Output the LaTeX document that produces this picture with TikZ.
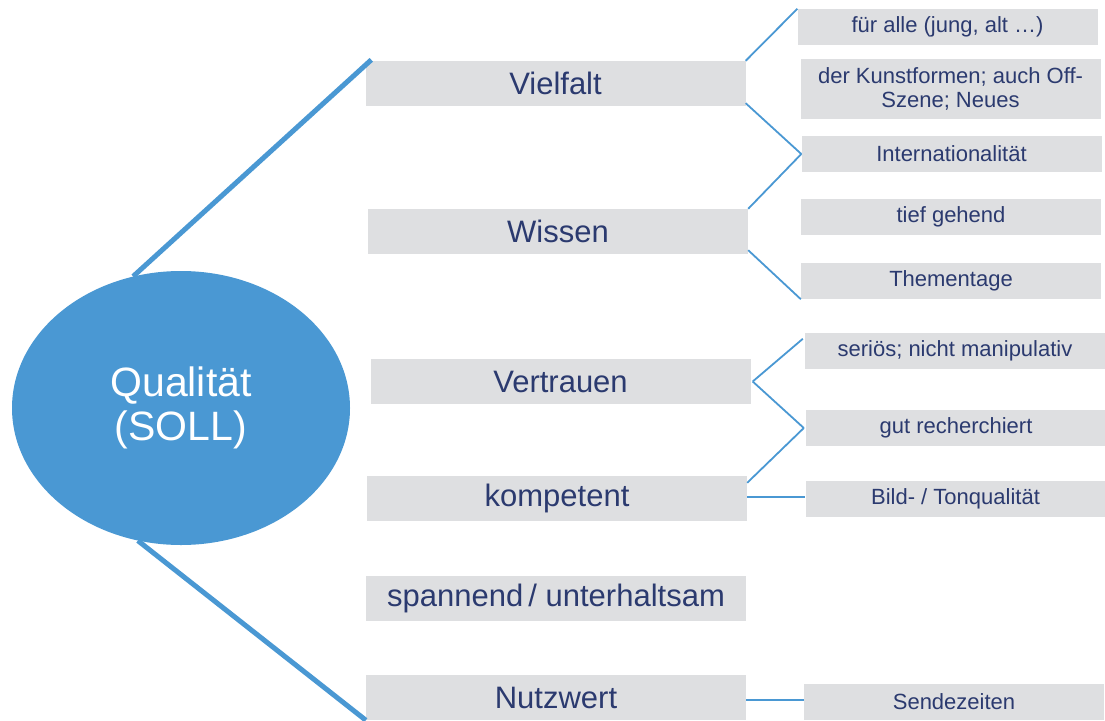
\documentclass[tikz,border=0pt]{standalone}
\usepackage{fontspec}
\setmainfont{Liberation Sans}
\usetikzlibrary{positioning,calc,shapes.geometric}
\definecolor{qualBlue}{HTML}{4A98D3}
\definecolor{qualGreyBg}{HTML}{DEDFE1}
\definecolor{qualNavyText}{HTML}{2B3A6F}
\tikzset{
  main box/.style={
    rectangle, fill=qualGreyBg, text=qualNavyText,
    minimum width=380pt, minimum height=45pt,
    inner sep=0pt, align=center,
    font=\fontsize{31}{35}\selectfont,
  },
  sub box/.style={
    rectangle, fill=qualGreyBg, text=qualNavyText,
    minimum width=300pt, minimum height=36pt,
    inner sep=0pt, align=center,
    font=\fontsize{22}{24}\selectfont,
  },
  trunk/.style={draw=qualBlue, line width=5pt},
  twig/.style={draw=qualBlue, line width=1.8pt},
}

\begin{document}
\begin{tikzpicture}[x=1pt, y=-1pt]
\useasboundingbox (0,0) rectangle (1105,720);

%% centre ==========================================================
\node[ellipse, fill=qualBlue, text=white, inner sep=0pt,
      minimum width=338pt, minimum height=274pt, align=center,
      font=\fontsize{41}{44}\selectfont]
  (qual) at (181, 408) {Qualität\\(SOLL)};

%% main criteria ===================================================
\node[main box] (vielfalt)  at (555.5, 83.5)  {Vielfalt};
\node[main box] (wissen)    at (558, 231.5)   {Wissen};
\node[main box] (vertrauen) at (560.5, 381.5) {Vertrauen};
\node[main box] (kompetent) at (557, 498.5)   {kompetent};
\node[main box] (spannend)  at (556, 598.5)   {spannend\,/ unterhaltsam};
\node[main box] (nutzwert)  at (556, 697.5)   {Nutzwert};

%% details =========================================================
\node[sub box] (fuer)    at (947.5, 27) {für alle (jung, alt …)};
\node[sub box, minimum height=60pt]
               (kunst)   at (950.5, 89) {der Kunstformen; auch Off-\\Szene; Neues};
\node[sub box] (intern)  at (951.5, 154) {Internationalität};
\node[sub box] (tief)    at (951, 217)   {tief gehend};
\node[sub box] (thema)   at (951, 281)   {Thementage};
\node[sub box] (serioes) at (955, 351)   {seriös; nicht manipulativ};
\node[sub box] (gut)     at (956, 428)   {gut recherchiert};
\node[sub box] (bild)    at (955.5, 499) {Bild- / Tonqualität};
\node[sub box] (sende)   at (954, 702)   {Sendezeiten};

%% connectors ======================================================
\draw[trunk] (qual.110) -- ($(vielfalt.north west)+(6,-1)$);
\draw[trunk] (qual.252) -- (nutzwert.south west);

\draw[twig] (vielfalt.north east) -- (fuer.north west);
\draw[twig] ($(vielfalt.south east)+(0,-3)$) -- (intern.west);
\draw[twig] (wissen.north east) -- (intern.west);
\draw[twig] ($(wissen.south east)+(0,-4)$) -- (thema.south west);
\draw[twig] ($(vertrauen.east)+(2,0)$) -- ($(serioes.north west)+(-2,6)$);
\draw[twig] ($(vertrauen.east)+(2,0)$) -- ($(gut.west)+(-2,0)$);
\draw[twig] ($(kompetent.north east)+(0,7)$) -- ($(gut.west)+(-2,0)$);
\draw[twig] ($(kompetent.east)+(0,-1.5)$) -- ($(bild.west)+(0,-2)$);
\draw[twig] ($(nutzwert.east)+(0,2.5)$) -- ($(sende.west)+(0,-2)$);

\end{tikzpicture}
\end{document}
